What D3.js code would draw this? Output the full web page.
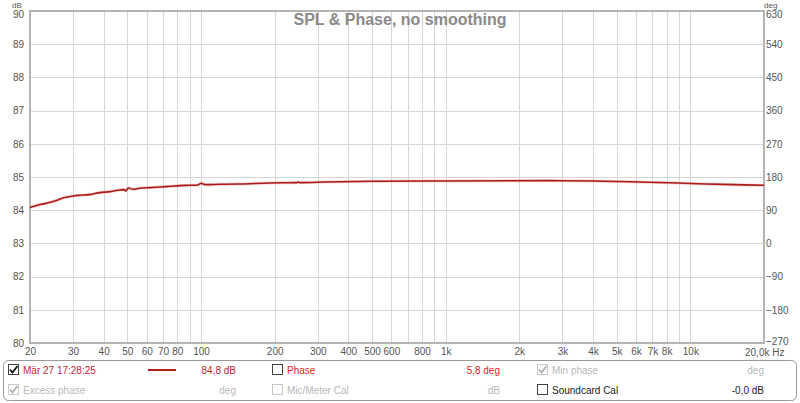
<!DOCTYPE html>
<html><head><meta charset="utf-8">
<script src="https://cdn.jsdelivr.net/npm/d3@7"></script>
<style>body{margin:0;background:#fff}svg{display:block;font-family:"Liberation Sans",Arial,sans-serif}</style>
</head><body><svg id="c" width="800" height="403"></svg>
<script>
const freqs = [20,22,24,26,28,30,32,35,38.6,42.6,46.7,48.5,49.3,50.4,52.7,56,62,68,75,82,90,97,100,104,120,144,190,245,250,255,324,500,1042,2660,4000,6180,8900,11600,15000,20000];
const spl   = [84.08,84.17,84.23,84.31,84.39,84.43,84.45,84.47,84.53,84.56,84.61,84.62,84.58,84.67,84.63,84.66,84.68,84.70,84.72,84.74,84.75,84.76,84.81,84.77,84.78,84.79,84.82,84.83,84.845,84.83,84.85,84.87,84.88,84.89,84.88,84.85,84.82,84.79,84.77,84.75];
const gridFreqs = [20,30,40,50,60,70,80,90,100,200,300,400,500,600,700,800,900,1000,2000,3000,4000,5000,6000,7000,8000,9000,10000,20000];
const xTickVals = [20,30,40,50,60,70,80,100,200,300,400,500,600,800,1000,2000,3000,4000,5000,6000,7000,8000,10000];
const xTickLabels = ["20","30","40","50","60","70","80","100","200","300","400","500","600","800","1k","2k","3k","4k","5k","6k","7k","8k","10k"];
const dbTicks = [80,81,82,83,84,85,86,87,88,89,90];
const degTicks = [-270,-180,-90,0,90,180,270,360,450,540,630];

const svg = d3.select("#c");
const L=30,R=764,T=11,B=343;
const x = d3.scaleLog().domain([20,20000]).range([L,R]);
const y = d3.scaleLinear().domain([80,90]).range([B,T]);
const y2 = d3.scaleLinear().domain([-270,630]).range([B,T]);

const g = svg.append("g");
g.selectAll("line.v").data(gridFreqs).join("line")
 .attr("x1",d=>Math.round(x(d))+0.5).attr("x2",d=>Math.round(x(d))+0.5).attr("y1",T).attr("y2",B)
 .attr("stroke","#d6d6d6").attr("stroke-width",1);
g.selectAll("line.h").data(dbTicks).join("line")
 .attr("y1",d=>Math.round(y(d))+0.5).attr("y2",d=>Math.round(y(d))+0.5).attr("x1",L).attr("x2",R)
 .attr("stroke","#d6d6d6").attr("stroke-width",1);

// title
svg.append("text").attr("x",400).attr("y",25).attr("text-anchor","middle")
 .attr("font-size",16).attr("font-weight","bold").attr("fill","#8a8a8a").text("SPL & Phase, no smoothing");

// frame
svg.append("rect").attr("x",L).attr("y",T).attr("width",R-L).attr("height",B-T)
 .attr("fill","none").attr("stroke","#b4b4b4").attr("stroke-width",2);

// left axis
const ax = d3.axisLeft(y).tickValues(dbTicks).tickSize(0).tickPadding(5);
const gl = svg.append("g").attr("transform",`translate(${L-1},0)`).call(ax);
gl.select(".domain").remove();
gl.selectAll("text").attr("font-size",10).attr("fill","#555").attr("font-family","Liberation Sans, Arial, sans-serif");
gl.selectAll(".tick").filter(d=>d===90).select("text").attr("dy","0.6em");
svg.append("text").attr("x",12).attr("y",8).attr("font-size",8).attr("fill","#555").text("dB");

// right axis
const ax2 = d3.axisRight(y2).tickValues(degTicks).tickSize(0).tickPadding(2);
const gr = svg.append("g").attr("transform",`translate(${R},0)`).call(ax2);
gr.select(".domain").remove();
gr.selectAll("text").attr("font-size",10).attr("fill","#555").attr("font-family","Liberation Sans, Arial, sans-serif");
gr.selectAll(".tick").filter(d=>d===630).select("text").attr("dy","0.6em");
gr.selectAll(".tick").filter(d=>d===-270).select("text").attr("dy","0.1em");
svg.append("text").attr("x",764).attr("y",8).attr("font-size",8).attr("fill","#555").text("deg");

// bottom axis
const axb = d3.axisBottom(x).tickValues(xTickVals).tickFormat((d,i)=>xTickLabels[i]).tickSize(0).tickPadding(5);
const gb = svg.append("g").attr("transform",`translate(0,${B})`).call(axb);
gb.select(".domain").remove();
gb.selectAll("text").attr("font-size",10).attr("fill","#555").attr("font-family","Liberation Sans, Arial, sans-serif");
svg.append("text").attr("x",745).attr("y",355.5).attr("font-size",10).attr("fill","#555").text("20,0k Hz");

// curve
const line = d3.line().x((d,i)=>x(freqs[i])).y(d=>y(d)).curve(d3.curveMonotoneX);
svg.append("path").datum(spl).attr("d",line).attr("fill","none").attr("stroke","#f0a0a0").attr("stroke-width",3).attr("opacity",0.5);
svg.append("path").datum(spl).attr("d",line).attr("fill","none").attr("stroke","#a81c1c").attr("stroke-width",1.6);

// legend
svg.append("rect").attr("x",3.5).attr("y",360.5).attr("width",793).attr("height",40).attr("rx",5)
 .attr("fill","#fff").attr("stroke","#999");
const items = [
 {col:0,row:0,box:"checked",label:"Mär 27 17:28:25",lc:"#c0282d",value:"84,8 dB",vc:"#c0282d",swatch:true},
 {col:1,row:0,box:"empty",label:"Phase",lc:"#e52222",value:"5,8 deg",vc:"#e52222"},
 {col:2,row:0,box:"dischecked",label:"Min phase",lc:"#b8b8b8",value:"deg",vc:"#b8b8b8"},
 {col:0,row:1,box:"dischecked",label:"Excess phase",lc:"#b8b8b8",value:"deg",vc:"#b8b8b8"},
 {col:1,row:1,box:"disempty",label:"Mic/Meter Cal",lc:"#b8b8b8",value:"dB",vc:"#b8b8b8"},
 {col:2,row:1,box:"empty",label:"Soundcard Cal",lc:"#222",value:"-0,0 dB",vc:"#222"}
];
const colX=[8,272,537], colR=[236,500,764], rowY=[364,384];
items.forEach(it=>{
  const bx=colX[it.col], by=rowY[it.row];
  const dis = it.box.startsWith("dis");
  svg.append("rect").attr("x",bx+0.5).attr("y",by+0.5).attr("width",10).attr("height",10)
   .attr("fill","#fff").attr("stroke",dis?"#c8c8c8":"#444");
  if(it.box.includes("checked")){
    svg.append("path").attr("d",`M${bx+2},${by+5.5} L${bx+4.5},${by+8.5} L${bx+9.5},${by+2}`)
     .attr("fill","none").attr("stroke",dis?"#b0b0b0":"#111").attr("stroke-width",1.8);
  }
  svg.append("text").attr("x",bx+15).attr("y",by+9.5).attr("font-size",10).attr("fill",it.lc).text(it.label);
  svg.append("text").attr("x",colR[it.col]).attr("y",by+9.5).attr("text-anchor","end").attr("font-size",10).attr("fill",it.vc).text(it.value);
  if(it.swatch){
    svg.append("line").attr("x1",148).attr("x2",176).attr("y1",370).attr("y2",370).attr("stroke","#b01c1c").attr("stroke-width",2);
  }
});
</script></body></html>
